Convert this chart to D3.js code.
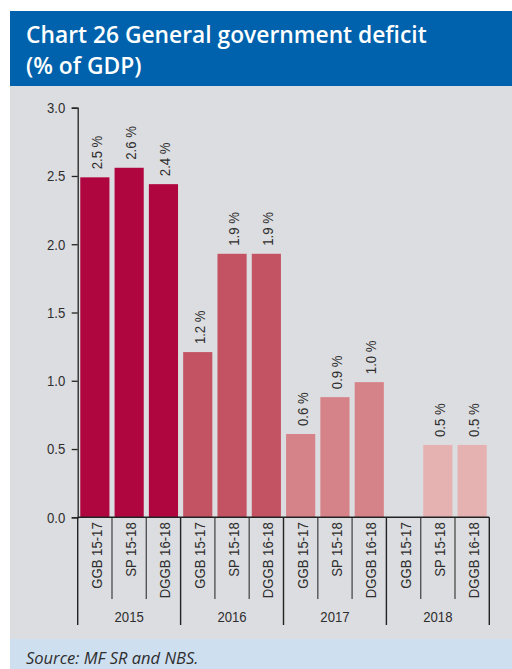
<!DOCTYPE html>
<html>
<head>
<meta charset="utf-8">
<script src="https://cdn.jsdelivr.net/npm/d3@7"></script>
<style>
  html, body { margin: 0; padding: 0; background: #ffffff; }
  svg { display: block; }
</style>
</head>
<body>
<svg id="chart" width="512" height="669"></svg>
<script>
// General government deficit, % of GDP, by year and fiscal document
const years = ["2015", "2016", "2017", "2018"];
const documents = ["GGB 15-17", "SP 15-18", "DGGB 16-18"];
const deficit2015 = [2.49, 2.56, 2.44];
const deficit2016 = [1.21, 1.93, 1.93];
const deficit2017 = [0.61, 0.88, 0.99];
const deficit2018 = [null, 0.53, 0.53];
const yTicks = [0, 0.5, 1.0, 1.5, 2.0, 2.5, 3.0];

const yearColors = ["#b0063f", "#c35263", "#d68289", "#e5b1b1"];

const deficitByYear = [deficit2015, deficit2016, deficit2017, deficit2018];
const rows = [];
years.forEach((yr, yi) => {
  documents.forEach((doc, di) => {
    rows.push({ key: yr + "|" + doc, year: yr, yi: yi, doc: doc, value: deficitByYear[yi][di] });
  });
});

const svg = d3.select("#chart");
const textColor = "#2e2e2e";
// axis text: a regular grotesque squeezed horizontally into a narrow cut
const axisFont = "'Liberation Sans', Arial, sans-serif";
const axisSize = 15.3;
const squeeze = 0.86;

// panels
svg.append("rect").attr("x", 10).attr("y", 11).attr("width", 502).attr("height", 75).attr("fill", "#0062ac");
svg.append("rect").attr("x", 10).attr("y", 86).attr("width", 502).attr("height", 553).attr("fill", "#dcdde0");
svg.append("rect").attr("x", 10).attr("y", 639).attr("width", 502).attr("height", 30).attr("fill", "#cedff0");

const title = svg.append("text")
  .attr("fill", "#ffffff")
  .attr("font-family", "'Open Sans', 'Noto Sans', sans-serif")
  .attr("font-weight", 600)
  .attr("font-size", 22.8);
title.append("tspan").attr("x", 26).attr("y", 43).text("Chart 26 General government deficit");
title.append("tspan").attr("x", 26).attr("y", 74).text("(% of GDP)");

svg.append("text")
  .attr("x", 26).attr("y", 664)
  .attr("fill", textColor)
  .attr("font-family", "'Open Sans', 'Noto Sans', sans-serif")
  .attr("font-style", "italic")
  .attr("font-size", 16.5)
  .text("Source: MF SR and NBS.");

// scales
const x = d3.scaleBand()
  .domain(rows.map(d => d.key))
  .range([77.7, 489.3])
  .paddingInner(0.15)
  .paddingOuter(0.075);

const y = d3.scaleLinear().domain([0, 3]).range([517.3, 107.7]);

// y axis
const yAxis = svg.append("g")
  .attr("transform", "translate(77.7,0)")
  .call(d3.axisLeft(y).tickValues(yTicks).tickFormat(d3.format(".1f")).tickSize(6).tickPadding(6));
yAxis.select(".domain").attr("stroke", "#222").attr("stroke-width", 1.3);
yAxis.selectAll(".tick line").attr("stroke", "#222").attr("stroke-width", 1.3);
yAxis.selectAll(".tick text")
  .attr("x", -12.5 / squeeze)
  .attr("transform", `scale(${squeeze},1)`)
  .attr("fill", textColor)
  .attr("font-family", axisFont)
  .attr("font-size", axisSize);

// bars
const barRows = rows.filter(d => d.value != null);
svg.append("g").selectAll("rect")
  .data(barRows)
  .join("rect")
  .attr("x", d => x(d.key))
  .attr("y", d => y(d.value))
  .attr("width", x.bandwidth())
  .attr("height", d => y(0) - y(d.value))
  .attr("fill", d => yearColors[d.yi]);

// value labels
svg.append("g").selectAll("text")
  .data(barRows)
  .join("text")
  .attr("transform", d => `translate(${x(d.key) + x.bandwidth() / 2 + 1.5},${y(d.value) - 8}) rotate(-90) scale(${squeeze},1)`)
  .attr("dy", "0.36em")
  .attr("text-anchor", "start")
  .attr("fill", textColor)
  .attr("font-family", axisFont)
  .attr("font-size", axisSize)
  .text(d => d3.format(".1f")(d.value) + " %");

// x axis: baseline, separators, category and year labels
const xAxis = svg.append("g");
const step = x.step();
const x0 = x.range()[0];
const yBase = y(0);

xAxis.selectAll("line.sep")
  .data(d3.range(rows.length + 1))
  .join("line")
  .attr("class", "sep")
  .attr("x1", i => x0 + i * step)
  .attr("x2", i => x0 + i * step)
  .attr("y1", yBase)
  .attr("y2", i => (i % documents.length === 0 ? 625 : 599))
  .attr("stroke", i => (i % documents.length === 0 ? "#222" : "#555"))
  .attr("stroke-width", 1.4);

xAxis.append("line")
  .attr("x1", x0).attr("x2", x.range()[1])
  .attr("y1", yBase).attr("y2", yBase)
  .attr("stroke", "#222").attr("stroke-width", 1.4);

xAxis.selectAll("text.cat")
  .data(rows)
  .join("text")
  .attr("class", "cat")
  .attr("transform", d => `translate(${x(d.key) + x.bandwidth() / 2 + 1.5},${yBase + 5}) rotate(-90) scale(${squeeze},1)`)
  .attr("dy", "0.36em")
  .attr("text-anchor", "end")
  .attr("fill", textColor)
  .attr("font-family", axisFont)
  .attr("font-size", axisSize)
  .text(d => d.doc);

xAxis.selectAll("text.year")
  .data(years)
  .join("text")
  .attr("class", "year")
  .attr("transform", (d, i) => `translate(${x0 + (i + 0.5) * documents.length * step},621.5) scale(${squeeze},1)`)
  .attr("text-anchor", "middle")
  .attr("fill", textColor)
  .attr("font-family", axisFont)
  .attr("font-size", axisSize)
  .text(d => d);
</script>
</body>
</html>
